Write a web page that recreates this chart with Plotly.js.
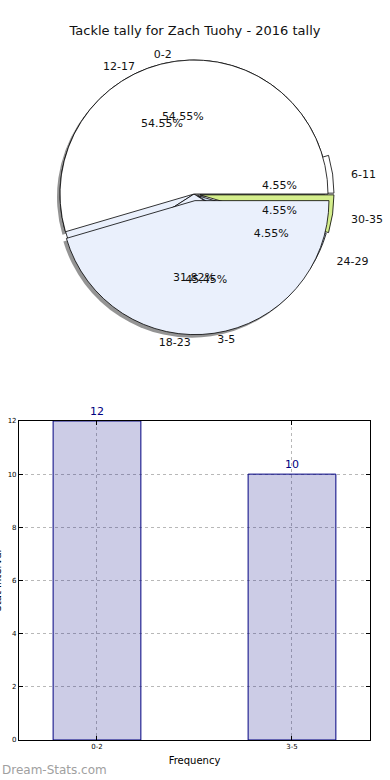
<!DOCTYPE html>
<html>
<head>
<meta charset="utf-8">
<script src="https://cdn.plot.ly/plotly-3.0.1.min.js"></script>
<style>html,body{margin:0;padding:0;background:#fff;}#chart{width:390px;height:780px;}</style>
</head>
<body>
<div id="chart"></div>
<script>
// Pie A (frequency bins)
var pieALabels = ['0-2', '3-5'];
var pieAValues = [12, 10];
var pieAColors = ['#ffffff', '#eaf0fc'];
var pieAPull = [0, 0.05];
// Pie B (stat intervals)
var pieBLabels = ['6-11', '12-17', '18-23', '24-29', '30-35'];
var pieBValues = [1, 12, 7, 1, 1];
var pieBColors = ['#ffffff', '#eaf0fc', '#eaf0fc', '#c8d8f0', '#d4ee8c'];
var pieBPull = [0.045, 0, 0, 0.03, 0.045];
// Bar chart
var barCats = ['0-2', '3-5'];
var barVals = [12, 10];

var font = 'DejaVu Sans, sans-serif';
var W = 390, H = 780;
var CX = 194, CY = 194, R = 134;   // pie placement in pixels (layout only)

function dom(cx, cy, r) {
  return {x: [(cx - r) / W, (cx + r) / W], y: [1 - (cy + r) / H, 1 - (cy - r) / H]};
}
function sum(a) { return a.reduce(function(s, v) { return s + v; }, 0); }
function maxOf(a) { return Math.max.apply(null, a); }
// first slice starts at 3 o'clock and slices run counterclockwise (matplotlib style)
function startRotation(values) { return 90 - values[0] / sum(values) * 360; }
function clear(n) { var c = []; for (var i = 0; i < n; i++) c.push('rgba(0,0,0,0)'); return c; }
// mid angle of each slice, degrees counterclockwise from 3 o'clock
function midAngles(values) {
  var tot = sum(values), acc = 0;
  return values.map(function(v) { var m = (acc + v / 2) / tot * 360; acc += v; return m; });
}

var kA = 1 + maxOf(pieAPull), kB = 1 + maxOf(pieBPull);
var domA = dom(CX, CY, R * kA);
var domB = dom(CX, CY, R * kB);
var domShadow = dom(CX - 3, CY + 3, R * kA);

function pieBase(labels, values, d, pull) {
  return {
    type: 'pie', labels: labels, values: values, domain: d, pull: pull,
    sort: false, direction: 'counterclockwise', rotation: startRotation(values),
    showlegend: false, hoverinfo: 'skip'
  };
}
function textPie(labels, values, d, pull, tmpl, pos) {
  var t = pieBase(labels, values, d, pull);
  t.marker = {colors: clear(values.length), line: {width: 0}};
  t.texttemplate = tmpl;
  t.textposition = pos;
  if (pos === 'inside') t.insidetextorientation = 'horizontal';
  t.textfont = {family: font, size: 11, color: '#111'};
  return t;
}

var traces = [];
// shadow
var sh = pieBase(pieALabels, pieAValues, domShadow, pieAPull);
sh.marker = {colors: ['rgba(60,60,60,0.55)', 'rgba(60,60,60,0.55)'], line: {width: 0}};
sh.textinfo = 'none';
traces.push(sh);
// pie B fills (behind)
var bf = pieBase(pieBLabels, pieBValues, domB, pieBPull);
bf.marker = {colors: pieBColors, line: {color: '#000', width: 0.8}};
bf.textinfo = 'none';
traces.push(bf);
// pie A fills (front)
var af = pieBase(pieALabels, pieAValues, domA, pieAPull);
af.marker = {colors: pieAColors, line: {color: '#000', width: 0.8}};
af.textinfo = 'none';
traces.push(af);

// slice groups for text placement
var totB = sum(pieBValues);
var midB = midAngles(pieBValues);
function group(fn) {
  return function(tmpl) {
    return pieBValues.map(function(v, i) { return fn(v / totB, midB[i]) ? tmpl : ''; });
  };
}
var smallG = group(function(f) { return f < 0.1; });
var bigG = group(function(f) { return f >= 0.1; });
var bigUpperG = group(function(f, m) { return f >= 0.1 && m < 180; });
var bigLowerG = group(function(f, m) { return f >= 0.1 && m >= 180; });

// percent texts
traces.push(textPie(pieBLabels, pieBValues, dom(CX, CY + 4, R * kB * 0.7), pieBPull, smallG('%{percent:.2%}'), 'inside'));
traces.push(textPie(pieBLabels, pieBValues, dom(CX, CY, R * 1.15), null, bigG('%{percent:.2%}'), 'inside'));
traces.push(textPie(pieALabels, pieAValues, dom(CX, CY, R * kA * 1.17), pieAPull, '%{percent:.2%}', 'inside'));
// label texts (outside)
traces.push(textPie(pieBLabels, pieBValues, dom(CX, CY + 3, R * kB * 1.11), pieBPull, smallG('%{label}'), 'outside'));
traces.push(textPie(pieBLabels, pieBValues, dom(CX, CY, R * kB * 1.0), pieBPull, bigUpperG('%{label}'), 'outside'));
traces.push(textPie(pieBLabels, pieBValues, dom(CX, CY, R * kB * 1.06), pieBPull, bigLowerG('%{label}'), 'outside'));
traces.push(textPie(pieALabels, pieAValues, dom(CX, CY, R * kA), pieAPull, '%{label}', 'outside'));

// bar chart
traces.push({
  type: 'bar', x: barCats, y: barVals, width: 0.45,
  marker: {color: 'rgba(0,0,128,0.2)', line: {color: '#000080', width: 1}},
  text: barVals.map(String), textposition: 'outside', cliponaxis: false,
  textfont: {family: font, size: 10, color: '#000080'},
  showlegend: false, hoverinfo: 'skip'
});

var yDom = [0.0513, 0.4603];
var layout = {
  width: W, height: H,
  margin: {l: 0, r: 0, t: 0, b: 0},
  paper_bgcolor: '#fff', plot_bgcolor: '#fff',
  font: {family: font, color: '#000'},
  uniformtext: {mode: 'show', minsize: 11},
  title: {text: 'Tackle tally for Zach Tuohy - 2016 tally', font: {family: font, size: 13, color: '#111'},
          x: 0.5, xanchor: 'center', y: 0.9615, yanchor: 'middle', yref: 'paper'},
  xaxis: {
    domain: [0.0487, 0.9487], anchor: 'y', type: 'category', range: [-0.4, 1.4],
    showline: true, linecolor: '#000', linewidth: 1, mirror: 'ticks',
    ticks: 'inside', ticklen: 4, tickcolor: '#000',
    showgrid: true, gridcolor: '#b8b8b8', griddash: 'dot', gridwidth: 1,
    tickfont: {family: font, size: 7, color: '#000'},
    title: {text: 'Frequency', font: {family: font, size: 10, color: '#000'}, standoff: 6},
    zeroline: false, fixedrange: true
  },
  yaxis: {
    domain: yDom, anchor: 'x', range: [0, 12], dtick: 2,
    showline: true, linecolor: '#000', linewidth: 1, mirror: 'ticks',
    ticks: 'inside', ticklen: 4, tickcolor: '#000',
    showgrid: true, gridcolor: '#b8b8b8', griddash: 'dot', gridwidth: 1,
    tickfont: {family: font, size: 7, color: '#000'},
    zeroline: false, fixedrange: true
  },
  annotations: [{
    // y-axis title, clipped at the page's left edge as in the original
    text: 'Stat Interval', xref: 'paper', yref: 'paper', x: -3 / W, y: (yDom[0] + yDom[1]) / 2,
    xanchor: 'center', yanchor: 'middle', textangle: -90, showarrow: false,
    font: {family: font, size: 10, color: '#000'}
  }, {
    text: 'Dream-Stats.com', xref: 'paper', yref: 'paper', x: 0, y: 0.0128,
    xanchor: 'left', yanchor: 'middle', showarrow: false,
    font: {family: font, size: 12, color: '#a0a0a0'}
  }]
};

Plotly.newPlot('chart', traces, layout, {staticPlot: true, displayModeBar: false});
</script>
</body>
</html>
